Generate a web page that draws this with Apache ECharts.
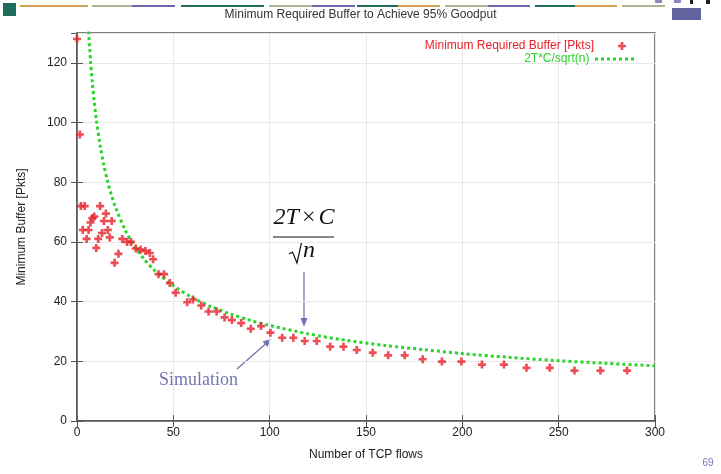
<!DOCTYPE html>
<html>
<head>
<meta charset="utf-8">
<script src="https://cdn.jsdelivr.net/npm/echarts@6/dist/echarts.min.js"></script>
<style>
  html, body { margin: 0; padding: 0; background: #ffffff; }
  #chart { width: 721px; height: 474px; }
</style>
</head>
<body>
<div id="chart"></div>
<script>
// Axis ticks
const flowTicks = [0, 50, 100, 150, 200, 250, 300];
const bufferTicks = [0, 20, 40, 60, 80, 100, 120];

// Simulation: minimum buffer (packets) needed for 95% goodput, by number of flows
const simFlows = [
  0, 1.5, 2, 4, 3, 6, 5, 7, 8, 9, 10, 11, 12, 13, 14, 15, 16, 17, 18, 19.5,
  21.5, 23.5, 26, 28, 30.5, 33, 35.5, 37.8, 39.5, 42.3, 45.2, 48.2, 51.2, 57.2, 60.2,
  64.5, 68.3, 72.5, 76.6, 80.4, 85.2, 90.2, 95.5, 100.4, 106.5, 112.3, 118.2, 124.4,
  131.4, 138.3, 145.2, 153.5, 161.5, 170.1, 179.4, 189.4, 199.5, 210.2, 221.6,
  233.3, 245.4, 258.2, 271.7, 285.5
];
const simBuffer = [
  128, 96, 72, 72, 64, 64, 61, 66.5, 68, 68.5, 58, 61, 72, 63, 67, 69.5, 64, 61.5, 67, 53,
  56, 61, 60, 60, 57.8, 57.4, 57, 56.3, 54.2, 49.2, 49.2, 46.2, 43, 39.8, 40.7,
  38.7, 36.7, 36.7, 34.7, 33.8, 32.8, 30.9, 31.8, 29.6, 27.9, 27.9, 26.8, 26.8,
  24.9, 24.9, 23.8, 22.9, 22, 22, 20.7, 19.9, 19.9, 18.9, 18.9,
  17.8, 17.8, 16.9, 16.9, 16.9
];

// Model curve 2T*C/sqrt(n), sampled along the plotted line
const modelFlows = [6, 7, 8, 9, 10, 12, 14, 16, 18, 20, 25, 30, 35, 40, 50, 60, 70, 80, 90,
  100, 120, 140, 160, 180, 200, 225, 250, 275, 300];
const modelBuffer = [130.6, 121, 113.1, 106.7, 101.2, 92.4, 85.5, 80, 75.4, 71.6, 64, 58.4,
  54.1, 50.6, 45.3, 41.3, 38.2, 35.8, 33.7, 32, 29.2, 27, 25.3, 23.9, 22.6, 21.3, 20.2,
  19.3, 18.5];

const simName = 'Minimum Required Buffer [Pkts]';
const modelName = '2T*C/sqrt(n)';
const titleText = 'Minimum Required Buffer to Achieve 95% Goodput';

const plusPath = 'path://M3,0H6V3H9V6H6V9H3V6H0V3H3Z';
// seven square dots for the dotted-line key
const dotsPath = 'path://M0,0h3v3h-3z M6,0h3v3h-3z M12,0h3v3h-3z M18,0h3v3h-3z M24,0h3v3h-3z M30,0h3v3h-3z M36,0h3v3h-3z';
const red = '#e8202a';
const green = '#2ad42a';
const frame = '#555555';
const ink = '#222222';
const sans = 'Liberation Sans, Arial, sans-serif';
const serif = 'Liberation Serif, Times New Roman, serif';
const noteColor = '#7474b4';

const simData = simFlows.map((n, i) => [n, simBuffer[i]]);
const modelData = modelFlows.map((n, i) => [n, modelBuffer[i]]);

// Slide header strip
const stripes = [
  [20, 88, '#d3a352'], [92, 132, '#aab690'], [132, 175, '#6a6aa8'], [181, 264, '#1f6b5c'],
  [269, 312, '#aab690'], [312, 355, '#6a6aa8'], [357, 398, '#1f6b5c'], [398, 440, '#d3a352'],
  [445, 488, '#aab690'], [488, 530, '#6a6aa8'], [535, 575, '#1f6b5c'], [575, 617, '#d3a352'],
  [622, 665, '#aab690']
];
const headerGraphics = stripes.map(s => ({
  type: 'rect', shape: { x: s[0], y: 5, width: s[1] - s[0], height: 2 },
  style: { fill: s[2] }, silent: true
}));

const mirrorTick = { show: true, inside: true, length: 6, lineStyle: { color: frame, width: 1 } };

const chart = echarts.init(document.getElementById('chart'), null, { renderer: 'canvas' });
chart.setOption({
  animation: false,
  backgroundColor: '#ffffff',
  title: {
    text: titleText,
    left: 'center',
    top: 4,
    textStyle: { fontFamily: sans, fontSize: 12, fontWeight: 'normal', color: '#333333' }
  },
  legend: [
    {
      data: [{ name: simName, icon: plusPath }],
      orient: 'vertical', align: 'right',
      right: 90, top: 35,
      itemWidth: 46, itemHeight: 8,
      textStyle: { fontFamily: sans, fontSize: 12, color: red }
    },
    {
      data: [{ name: modelName, icon: dotsPath }],
      orient: 'vertical', align: 'right',
      right: 82, top: 48,
      itemWidth: 40, itemHeight: 3,
      itemStyle: { color: green },
      textStyle: { fontFamily: sans, fontSize: 12, color: green }
    }
  ],
  grid: {
    left: 77, right: 66, top: 33, bottom: 53,
    show: true, borderColor: frame, borderWidth: 1.5, backgroundColor: 'transparent'
  },
  xAxis: [
    {
      type: 'value', min: flowTicks[0], max: flowTicks[flowTicks.length - 1], interval: 50,
      name: 'Number of TCP flows', nameLocation: 'middle', nameGap: 28,
      nameTextStyle: { fontFamily: sans, fontSize: 12, color: ink },
      axisLine: { show: true, onZero: false, lineStyle: { color: frame, width: 1.5 } },
      axisTick: { show: true, inside: true, length: 6, lineStyle: { color: frame } },
      axisLabel: { fontFamily: sans, fontSize: 12, color: ink, margin: 6 },
      splitLine: { show: true, lineStyle: { color: '#e8e8e8', width: 1 } }
    },
    {
      type: 'value', position: 'top', min: 0, max: 300, interval: 50,
      axisLine: { show: false }, axisTick: mirrorTick,
      axisLabel: { show: false }, splitLine: { show: false }
    }
  ],
  yAxis: [
    {
      type: 'value', min: bufferTicks[0], max: 130, interval: 20,
      name: 'Minimum Buffer [Pkts]', nameLocation: 'middle', nameGap: 49,
      nameTextStyle: { fontFamily: sans, fontSize: 12, color: ink },
      axisLine: { show: true, onZero: false, lineStyle: { color: frame, width: 1.5 } },
      axisTick: { show: true, inside: true, length: 6, lineStyle: { color: frame } },
      axisLabel: { fontFamily: sans, fontSize: 12, color: ink, margin: 10, showMaxLabel: false },
      splitLine: { show: true, lineStyle: { color: '#e8e8e8', width: 1 } }
    },
    {
      type: 'value', position: 'right', min: 0, max: 130, interval: 20,
      axisLine: { show: false }, axisTick: mirrorTick,
      axisLabel: { show: false }, splitLine: { show: false }
    }
  ],
  series: [
    {
      name: simName,
      type: 'scatter',
      data: simData,
      symbol: plusPath,
      symbolSize: 8,
      clip: false,
      itemStyle: { color: red },
      z: 3
    },
    {
      name: modelName,
      type: 'line',
      data: modelData,
      smooth: 0.3,
      showSymbol: false,
      symbol: 'none',
      clip: true,
      lineStyle: { color: green, width: 3, type: [3, 3], cap: 'butt' },
      itemStyle: { color: green },
      z: 2
    }
  ],
  graphic: headerGraphics.concat([
    { type: 'rect', shape: { x: 3, y: 3, width: 13, height: 13 }, style: { fill: '#1f6b5c' }, silent: true },
    { type: 'rect', shape: { x: 672, y: 8, width: 29, height: 12 }, style: { fill: '#6264a0' }, silent: true },
    { type: 'rect', shape: { x: 655, y: 0, width: 7, height: 3 }, style: { fill: '#8a8ac0' }, silent: true },
    { type: 'rect', shape: { x: 674, y: 0, width: 7, height: 3 }, style: { fill: '#8a8ac0' }, silent: true },
    { type: 'rect', shape: { x: 690, y: 0, width: 3, height: 4 }, style: { fill: '#222222' }, silent: true },
    { type: 'rect', shape: { x: 706, y: 0, width: 4, height: 4 }, style: { fill: '#222222' }, silent: true },

    // Formula 2T x C / sqrt(n)
    {
      type: 'text', x: 304, y: 230,
      style: {
        text: '{v|2T}{o|×}{v|C}',
        align: 'center', verticalAlign: 'bottom',
        rich: {
          v: { fontFamily: serif, fontStyle: 'italic', fontSize: 24, fill: '#111111' },
          o: { fontFamily: serif, fontSize: 24, fill: '#111111', padding: [0, 3, 0, 3] }
        }
      }
    },
    { type: 'line', shape: { x1: 273, y1: 237, x2: 334, y2: 237 }, style: { stroke: '#111111', lineWidth: 1.2 } },
    {
      type: 'polyline',
      shape: { points: [[289, 254], [292.5, 252], [297, 263], [301.5, 242.5], [318, 242.5]] },
      style: { stroke: '#111111', lineWidth: 1.2, fill: null }
    },
    {
      type: 'text', x: 303, y: 263,
      style: { text: 'n', fontFamily: serif, fontStyle: 'italic', fontSize: 24, fill: '#111111', verticalAlign: 'bottom' }
    },

    // Arrow to the model curve
    { type: 'line', shape: { x1: 304, y1: 272, x2: 304, y2: 321 }, style: { stroke: noteColor, lineWidth: 1.3 } },
    { type: 'polygon', shape: { points: [[300.5, 318], [307.5, 318], [304, 327]] }, style: { fill: noteColor } },

    // Simulation label and arrow to the data
    {
      type: 'text', x: 159, y: 380,
      style: { text: 'Simulation', fontFamily: serif, fontSize: 18, fill: noteColor, verticalAlign: 'middle' }
    },
    { type: 'line', shape: { x1: 237, y1: 369, x2: 266, y2: 343.5 }, style: { stroke: noteColor, lineWidth: 1.3 } },
    { type: 'polygon', shape: { points: [[267.5, 347], [262.5, 341.5], [271, 339]] }, style: { fill: noteColor } },

    // Slide number
    {
      type: 'text', x: 708, y: 463,
      style: { text: '69', fontFamily: sans, fontSize: 10, fill: noteColor, align: 'center', verticalAlign: 'middle' }
    }
  ])
});
</script>
</body>
</html>
